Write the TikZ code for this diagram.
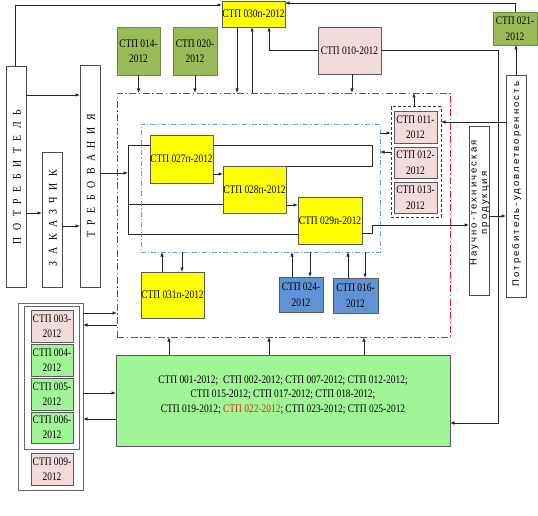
\documentclass[tikz,border=0pt]{standalone}
\usepackage{fontspec}
\setmainfont{Liberation Serif}
\newfontfamily\stpfont[FakeStretch=0.82]{Liberation Serif}
\newfontfamily\spacedserif[FakeStretch=0.82,LetterSpace=55]{Liberation Serif}
\newfontfamily\spacedsans[LetterSpace=22]{Liberation Sans}
\usetikzlibrary{arrows.meta}
\pgfdeclarelayer{bg}
\pgfsetlayers{bg,main}
\definecolor{olivegreen}{RGB}{155,187,89}
\definecolor{olivedark}{RGB}{113,137,63}
\definecolor{pinkfill}{RGB}{242,220,219}
\definecolor{bluefill}{RGB}{96,146,214}
\definecolor{lightgreen}{RGB}{160,246,150}
\definecolor{yellowfill}{RGB}{255,255,0}
\definecolor{dashblue}{RGB}{110,160,205}
\definecolor{redline}{RGB}{230,30,30}
\definecolor{redtext}{RGB}{220,40,20}
\begin{document}
\begin{tikzpicture}[x=1pt,y=-1pt,
  box/.style={draw=black!65, line width=0.6pt, inner sep=0pt, outer sep=0pt, align=center,
    font=\stpfont\fontsize{11.5}{15.5}\selectfont},
  yel/.style={box, fill=yellowfill},
  olv/.style={box, fill=olivegreen, draw=olivedark},
  pnk/.style={box, fill=pinkfill},
  blu/.style={box, fill=bluefill},
  lgr/.style={box, fill=lightgreen},
  vbox/.style={draw=black!70, line width=0.6pt, fill=white, inner sep=0pt, outer sep=0pt},
  frame/.style={draw=black!60, line width=0.6pt, inner sep=0pt, outer sep=0pt},
  arr/.style={draw=black!85, line width=0.8pt, -{Latex[length=4.5pt,width=3.6pt]}},
  ln/.style={draw=black!85, line width=0.8pt},
  vserif/.style={rotate=90, font=\spacedserif\fontsize{12}{12}\selectfont},
  vsans/.style={rotate=90, align=center, font=\spacedsans\fontsize{9.5}{10.5}\selectfont}
]
\useasboundingbox (0,0) rectangle (538,516);

% frames
\node[draw=redline, line width=0.9pt, dash pattern=on 7pt off 2.5pt on 1.5pt off 2.5pt,
  minimum width=333pt, minimum height=244pt, inner sep=0pt, outer sep=0pt] (redbox) at (283.5,215) {};
\node[draw=dashblue, line width=0.7pt, dash pattern=on 5pt off 2pt on 1.2pt off 2pt,
  minimum width=239pt, minimum height=128pt, inner sep=0pt, outer sep=0pt] (bluebox) at (260.5,188) {};
\node[draw=black!80, line width=1pt, dash pattern=on 3pt off 2pt,
  minimum width=50pt, minimum height=110pt, inner sep=0pt, outer sep=0pt] (d011) at (416,162) {};

% top boxes
\node[yel, minimum width=63pt, minimum height=26pt] (p030) at (253.5,14) {СТП 030п-2012};
\node[olv, minimum width=43pt, minimum height=48pt] (s014) at (138.5,51) {СТП 014-\\2012};
\node[olv, minimum width=44pt, minimum height=48pt] (s020) at (195,51) {СТП 020-\\2012};
\node[pnk, minimum width=63pt, minimum height=47pt] (s010) at (349.5,50.5) {СТП 010-2012};
\node[olv, minimum width=44pt, minimum height=33pt] (s021) at (515,28.5) {СТП 021-\\2012};

% left vertical boxes
\node[vbox, minimum width=20pt, minimum height=221pt] (potreb) at (16,176.5) {};
\node[vserif] at (17,177) {ПОТРЕБИТЕЛЬ};
\node[vbox, minimum width=20pt, minimum height=135pt] (zakaz) at (52,219.5) {};
\node[vserif] at (53,218) {ЗАКАЗЧИК};
\node[vbox, minimum width=20pt, minimum height=222pt] (treb) at (90,176) {};
\node[vserif] at (91,176) {ТРЕБОВАНИЯ};

% right vertical boxes
\node[vbox, minimum width=20pt, minimum height=169pt] (nauch) at (479,210.5) {};
\node[vsans] at (479.5,203) {Научно-техническая\\продукция};
\node[vbox, minimum width=20pt, minimum height=222pt] (udov) at (516,186) {};
\node[vsans] at (516.5,184) {Потребитель-удовлетворенность};

% yellow process boxes
\node[yel, minimum width=63pt, minimum height=48pt] (y027) at (181.5,159) {СТП 027п-2012};
\node[yel, minimum width=63pt, minimum height=47pt] (y028) at (254.5,189.5) {СТП 028п-2012};
\node[yel, minimum width=64pt, minimum height=47pt] (y029) at (330,220.5) {СТП 029п-2012};
\node[yel, minimum width=63pt, minimum height=46pt] (y031) at (172.5,295) {СТП 031п-2012};

% blue boxes
\node[blu, minimum width=44pt, minimum height=35pt] (b024) at (301,294.5) {СТП 024-\\2012};
\node[blu, minimum width=45pt, minimum height=35pt] (b016) at (355.5,295.5) {СТП 016-\\2012};

% pink 011-013
\node[pnk, minimum width=43pt, minimum height=32pt] (s011) at (415.5,127) {СТП 011-\\2012};
\node[pnk, minimum width=43pt, minimum height=31pt] (s012) at (415.5,162.5) {СТП 012-\\2012};
\node[pnk, minimum width=43pt, minimum height=31pt] (s013) at (415.5,197.5) {СТП 013-\\2012};

% big green box
\node[lgr, minimum width=334pt, minimum height=91pt] (green) at (283,400.5) {};
\node[align=center, inner sep=0pt, font=\stpfont\fontsize{11.5}{14.5}\selectfont] (greentext) at (283,395)
  {СТП 001-2012;\ \ СТП 002-2012; СТП 007-2012; СТП 012-2012;\\
   СТП 015-2012; СТП 017-2012; СТП 018-2012;\\
   СТП 019-2012; \textcolor{redtext}{СТП 022-2012}; СТП 023-2012; СТП 025-2012};

% left group
\node[frame, fill=white, minimum width=65pt, minimum height=187pt] (outer) at (50.5,396.5) {};
\node[frame, minimum width=55pt, minimum height=143pt] (inner) at (51.5,377.5) {};
\node[pnk, minimum width=42pt, minimum height=32pt, font=\stpfont\fontsize{11.5}{15}\selectfont] (s003) at (52,326) {СТП 003-\\2012};
\node[lgr, minimum width=42pt, minimum height=32pt, font=\stpfont\fontsize{11.5}{15}\selectfont] (s004) at (52,360) {СТП 004-\\2012};
\node[lgr, minimum width=42pt, minimum height=32pt, font=\stpfont\fontsize{11.5}{15}\selectfont] (s005) at (52,394) {СТП 005-\\2012};
\node[lgr, minimum width=42pt, minimum height=31pt, font=\stpfont\fontsize{11.5}{15}\selectfont] (s006) at (52,427.5) {СТП 006-\\2012};
\node[pnk, minimum width=42pt, minimum height=32pt, font=\stpfont\fontsize{11.5}{15}\selectfont] (s009) at (52,469) {СТП 009-\\2012};

% bus lines inside blue frame (behind boxes)
\coordinate (bt) at (128,145);
\coordinate (bm) at (128,173);
\coordinate (bb) at (128,234);
\begin{pgfonlayer}{bg}
\draw[ln] (bt) -- (bb);
\draw[ln] (bt) -- (372,145) -- (372,166) -- (y028.north east);
\draw[ln] (bt |- 0,204) -- (y028.west |- 0,204);
\draw[ln] (bb) -- (y029.west |- 0,234);
\end{pgfonlayer}
\draw[arr] (treb.east |- bm) -- (bm);
\draw[arr] (y027.east |- 0,174) -- (y028.west |- 0,174);
\draw[arr] (y028.east |- 0,205) -- (y029.west |- 0,205);
\draw[arr] (y029.east |- 0,233) -- (372,233) -- (372,225) -- (nauch.west |- 0,225);

% left arrows
\draw[arr] (potreb.east |- 0,95) -- (treb.west |- 0,95);
\draw[arr] (potreb.east |- 0,213) -- (zakaz.west |- 0,213);
\draw[arr] (zakaz.east |- 0,226) -- (treb.west |- 0,226);

% top connections
\draw[arr] (potreb.north -| 15,0) |- (p030.west |- 0,5);
\draw[arr] (s021.north) |- (p030.east |- 0,3);
\draw[arr] (p030.south -| 237,0) -- (redbox.north -| 237,0);
\draw[arr] (redbox.north -| 252,0) -- (p030.south -| 252,0);
\draw[arr] (s010.west) -| (p030.south -| 269,0);
\draw[arr] (s010.east) -| (498,423) -- (green.east |- 0,423);
\draw[arr] (s010.south -| 352,0) -- (redbox.north -| 352,0);
\draw[arr] (s014.south) -- (redbox.north -| s014.south);
\draw[arr] (s020.south) -- (redbox.north -| s020.south);
\draw[arr] (d011.north -| 414,0) -- (redbox.north -| 414,0);

% right connections
\draw[arr] (udov.north) -- (s021.south -| udov.north);
\draw[arr] (udov.west |- 0,122) -- (d011.east |- 0,122);
\draw[arr] (nauch.east |- 0,216) -- (udov.west |- 0,216);
\draw[arr] (bluebox.east |- 0,133) -- (d011.west |- 0,133);
\draw[arr] (d011.west |- 0,152) -- (bluebox.east |- 0,152);

% bottom of blue frame
\draw[arr] (y031.north -| 162,0) -- (bluebox.south -| 162,0);
\draw[arr] (bluebox.south -| 182,0) -- (y031.north -| 182,0);
\draw[arr] (b024.north -| 292,0) -- (bluebox.south -| 292,0);
\draw[arr] (bluebox.south -| 310,0) -- (b024.north -| 310,0);
\draw[arr] (b016.north -| 348,0) -- (bluebox.south -| 348,0);
\draw[arr] (bluebox.south -| 365,0) -- (b016.north -| 365,0);

% green box to red frame
\draw[arr] (green.north -| 169,0) -- (redbox.south -| 169,0);
\draw[arr] (green.north -| 269,0) -- (redbox.south -| 269,0);
\draw[arr] (green.north -| 364,0) -- (redbox.south -| 364,0);

% left group connections
\draw[arr] (outer.east |- 0,313) -- (redbox.west |- 0,313);
\draw[arr] (redbox.west |- 0,325) -- (outer.east |- 0,325);
\draw[arr] (outer.east |- 0,393) -- (green.west |- 0,393);
\draw[arr] (green.west |- 0,419) -- (outer.east |- 0,419);
\end{tikzpicture}
\end{document}
